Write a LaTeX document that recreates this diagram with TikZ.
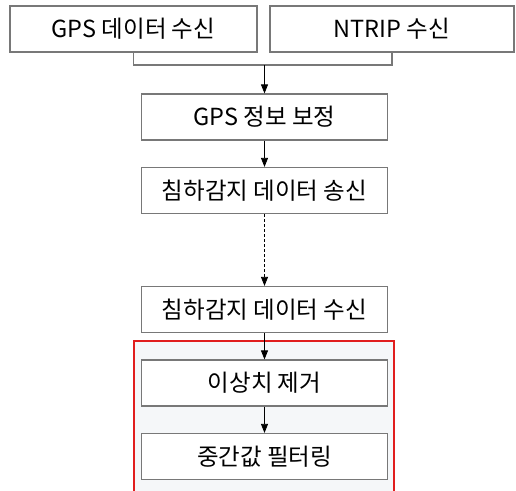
\documentclass[tikz,border=0pt]{standalone}
\usepackage{fontspec}
\setmainfont{Noto Sans CJK KR}
\usepackage{tikz}
\usetikzlibrary{arrows.meta}
\definecolor{boxgray}{RGB}{120,120,120}
\definecolor{groupred}{RGB}{225,30,30}
\definecolor{groupfill}{RGB}{245,247,249}
\tikzset{>={Triangle[width=7pt,length=9pt]}}
\tikzset{
    stepbox/.style={draw=boxgray, line width=1.2pt, fill=white, minimum width=246pt,
        minimum height=46pt, inner sep=0pt, font=\fontsize{23.5}{28}\selectfont},
    link/.style={->, line width=0.8pt, black}
}

\begin{document}
\begin{tikzpicture}[x=1pt,y=-1pt]
    % Frame
    \useasboundingbox (0,0) rectangle (516,490);
    \clip (0,0) rectangle (516,490);

    % Red group around the filtering steps
    \draw[groupred, fill=groupfill, line width=1.4pt] (134,341) rectangle (394,505);

    % Steps
    \node[stepbox, minimum width=247pt] (gps)   at (133.5,29) {GPS 데이터 수신};
    \node[stepbox, minimum width=244pt] (ntrip) at (392,29)   {NTRIP 수신};
    \node[stepbox] (corr)   at (264.5,117) {GPS 정보 보정};
    \node[stepbox] (send)   at (264.5,190.5) {침하감지 데이터 송신};
    \node[stepbox] (recv)   at (264.5,309.5) {침하감지 데이터 수신};
    \node[stepbox] (outl)   at (264.5,383) {이상치 제거};
    \node[stepbox] (median) at (264.5,456.5) {중간값 필터링};

    % Join of the two inputs
    \coordinate (join) at (264.5,65);
    \draw[boxgray, line width=1.2pt] (gps.south) |- (join) -| (ntrip.south);

    % Arrows
    \draw[link] (join) -- (corr.north);
    \draw[link] (corr) -- (send);
    \draw[link, dash pattern=on 3pt off 2pt] (send) -- (recv);
    \draw[link] (recv) -- (outl);
    \draw[link] (outl) -- (median);
\end{tikzpicture}
\end{document}
